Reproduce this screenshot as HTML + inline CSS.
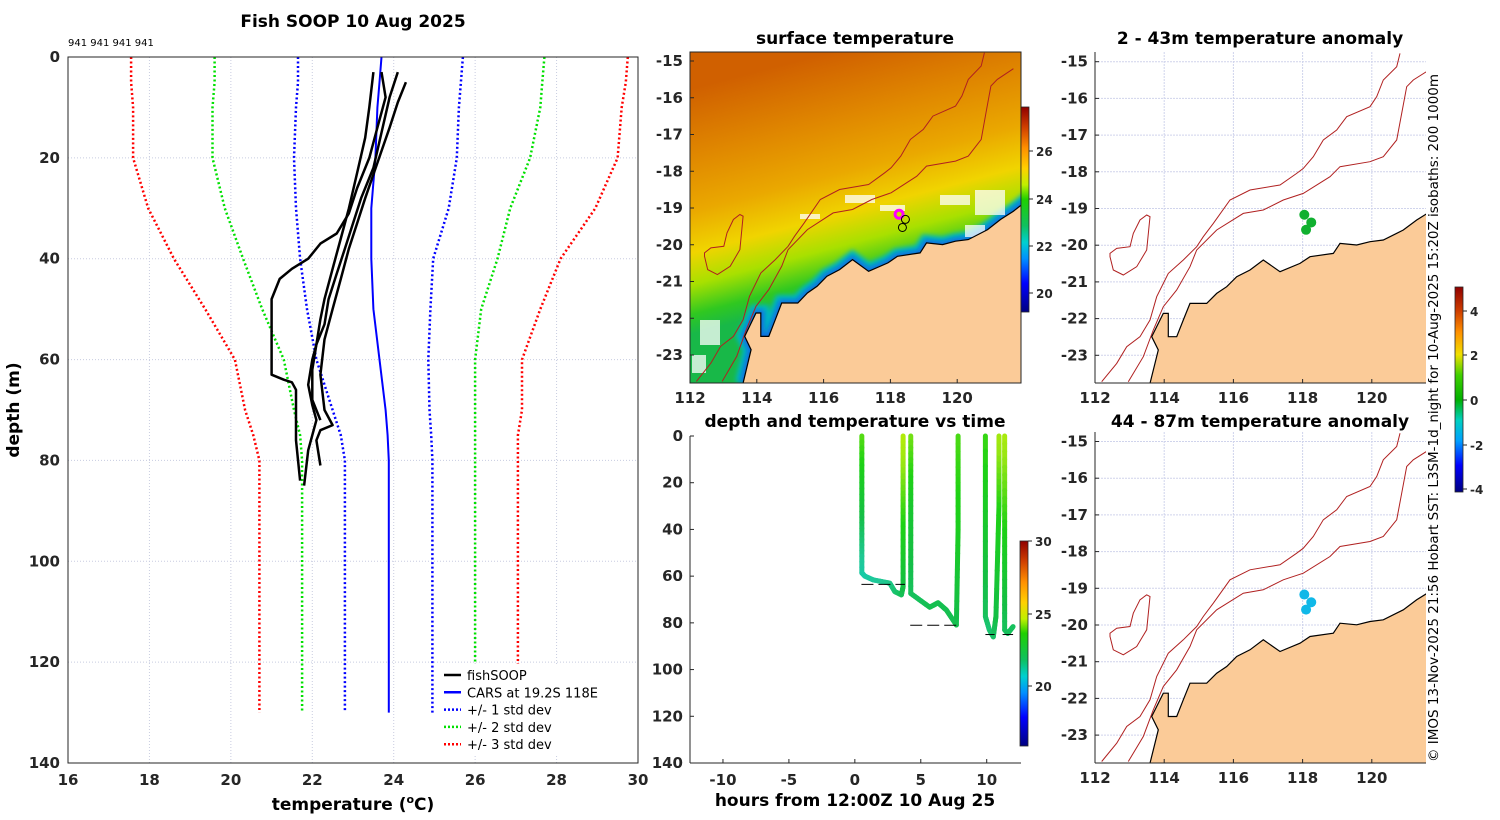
<!DOCTYPE html>
<html><head><meta charset="utf-8"><style>
html,body{margin:0;padding:0;background:#fff}
svg{display:block;font-family:"DejaVu Sans","Liberation Sans",sans-serif}
.tk{font-size:15px;font-weight:bold;fill:#262626}
.ttl{font-size:17px;font-weight:bold;fill:#000}
</style></head><body>
<svg id="fig" width="1500" height="820" viewBox="0 0 1500 820" xmlns="http://www.w3.org/2000/svg">
<defs>
<linearGradient id="sstGrad" gradientUnits="userSpaceOnUse" x1="880" y1="285" x2="820" y2="55">
<stop offset="0" stop-color="#18b848"/><stop offset="0.08" stop-color="#30c820"/><stop offset="0.2" stop-color="#a8e000"/><stop offset="0.33" stop-color="#f0d400"/><stop offset="0.5" stop-color="#eaa800"/><stop offset="0.72" stop-color="#e08800"/><stop offset="1" stop-color="#d06000"/>
</linearGradient>
<linearGradient id="cbT" x1="0" y1="0" x2="0" y2="1">
<stop offset="0" stop-color="#900000"/><stop offset="0.1" stop-color="#d04000"/><stop offset="0.2" stop-color="#ff9000"/><stop offset="0.3" stop-color="#ffd000"/><stop offset="0.38" stop-color="#c0f000"/><stop offset="0.45" stop-color="#20d000"/><stop offset="0.58" stop-color="#10c060"/><stop offset="0.66" stop-color="#00d0d0"/><stop offset="0.74" stop-color="#0090ff"/><stop offset="0.86" stop-color="#0000ff"/><stop offset="1" stop-color="#000080"/>
</linearGradient>
<linearGradient id="cbA" x1="0" y1="0" x2="0" y2="1">
<stop offset="0" stop-color="#900000"/><stop offset="0.12" stop-color="#d04000"/><stop offset="0.22" stop-color="#ff9000"/><stop offset="0.33" stop-color="#f0e000"/><stop offset="0.43" stop-color="#40d000"/><stop offset="0.55" stop-color="#00b000"/><stop offset="0.65" stop-color="#00d0c0"/><stop offset="0.75" stop-color="#00a0ff"/><stop offset="0.87" stop-color="#0000ff"/><stop offset="1" stop-color="#000080"/>
</linearGradient>
<clipPath id="c1"><rect x="690" y="52" width="331" height="331"/></clipPath>
<clipPath id="c2"><rect x="1095" y="52" width="331" height="331"/></clipPath>
<clipPath id="c3"><rect x="1095" y="432" width="331" height="331"/></clipPath>
<filter id="blur4" x="-10%" y="-10%" width="120%" height="120%"><feGaussianBlur stdDeviation="2.5"/></filter>
</defs>

<text class="ttl" x="353" y="27" text-anchor="middle">Fish SOOP 10 Aug 2025</text>
<text x="68" y="46" font-size="10">941 941 941 941</text>
<g id="left"></g>
<text class="ttl" x="353" y="810" text-anchor="middle">temperature (<tspan font-size="11" dy="-7">o</tspan><tspan dy="7">C)</tspan></text>
<text class="ttl" transform="translate(19,410) rotate(-90)" text-anchor="middle">depth (m)</text>

<text class="ttl" x="855" y="44" text-anchor="middle">surface temperature</text>
<g id="m1"></g>
<text class="ttl" x="855" y="427" text-anchor="middle">depth and temperature vs time</text>
<g id="tp"></g>
<text class="ttl" x="855" y="806" text-anchor="middle">hours from 12:00Z 10 Aug 25</text>

<text class="ttl" x="1260" y="44" text-anchor="middle">2 - 43m temperature anomaly</text>
<g id="m2"></g>
<text class="ttl" x="1260" y="427" text-anchor="middle">44 - 87m temperature anomaly</text>
<g id="m3"></g>
<g id="cbars"></g>
<text transform="translate(1438,762) rotate(-90)" font-size="13" textLength="688" lengthAdjust="spacingAndGlyphs">© IMOS 13-Nov-2025 21:56 Hobart SST: L3SM-1d_night for 10-Aug-2025 15:20Z isobaths: 200  1000m</text>
</svg>
<script>
// ---------- profile data ----------
const levels   = [0,5,10,20,30,40,50,60,70,75,80,130];
const carsMean = [23.7,23.65,23.6,23.55,23.45,23.45,23.5,23.65,23.8,23.85,23.88,23.88];
const std1Lo = [21.65,21.65,21.6,21.55,21.6,21.7,21.87,22.1,22.5,22.7,22.8,22.8];
const std1Hi = [25.7,25.65,25.6,25.55,25.35,24.97,24.9,24.85,24.88,24.92,24.95,24.95];
const std2Lo = [19.6,19.6,19.55,19.55,19.85,20.3,20.77,21.3,21.55,21.7,21.75,21.75];
const std2Hi = [27.7,27.65,27.6,27.35,26.86,26.55,26.15,26.0,26.0,26.0,26.0,26.0];
const std3Lo = [17.55,17.55,17.6,17.6,17.97,18.6,19.37,20.1,20.35,20.55,20.7,20.7];
const std3Hi = [29.75,29.7,29.6,29.5,28.95,28.1,27.6,27.15,27.15,27.05,27.05,27.05];
const prof1T = [23.7,23.8,23.6,23.4,23.1,22.9,22.6,22.2,21.9,21.5,21.2,21.0,21.0,21.0,21.3,21.5,21.6,21.6,21.7];
const prof1D = [3,8,14,20,26,31,35,37,40,42,44,48,55,63,64,64.5,66,76,84];
const prof2T = [24.1,23.9,23.7,23.5,23.2,23.0,22.8,22.6,22.4,22.3,22.1,22.0,21.9,22.0,22.1,21.9,21.8];
const prof2D = [3,8,15,22,28,33,38,43,48,53,57,60,65,69,72,78,85];
const prof3T = [24.3,24.1,23.9,23.6,23.3,23.1,22.9,22.7,22.5,22.3,22.2,22.3,22.5,22.2,22.1,22.2];
const prof3D = [5,9,14,21,28,33,38,44,50,56,63,70,73,74,76,81];
const prof4T = [23.5,23.4,23.3,23.1,22.9,22.7,22.5,22.3,22.2,22.1,22.0,22.0,22.2];
const prof4D = [3,10,16,23,30,36,42,48,52,57,62,68,72];
const xTicks = [16,18,20,22,24,26,28,30];
const yTicks = [0,20,40,60,80,100,120,140];

// ---------- depth-time data ----------
const tTimes  = [0.53,0.53,0.53,0.76,1.39,2.65,3.03,3.53,3.66,3.66,3.66, 4.24,4.24,4.24,4.92,5.68,6.31,6.94,7.7,7.83,7.83, 9.9,9.9,10.2,10.5,10.7,10.93,10.93, 11.36,11.36,11.36,11.6,12.0];
const tDepths = [0,30,58.6,60,61.6,63,66.6,68,64.5,30,0, 0,30,67.4,70.2,73.3,71.4,74.5,80.9,40,0, 0,77.3,83,86,77.3,30,0, 0,40,83,84.5,81.6];
const tTemps  = [24.4,23.4,22.3,22.2,22.4,22.6,22.8,23.0,23.2,24.2,25.2, 24.6,23.6,23.0,23.0,23.1,23.1,23.1,23.1,23.8,24.3, 24.2,23.0,22.8,22.9,23.2,24.0,25.0, 25.1,24.0,23.0,23.0,23.0];
const segStarts = [0,11,21,28];
const dashT0 = [0.5,4.2,9.9,11.2];
const dashT1 = [3.8,7.8,10.6,12.0];
const dashD  = [63.5,81,85,85];
const tXTicks = [-10,-5,0,5,10];
const tYTicks = [0,20,40,60,80,100,120,140];

// ---------- map geometry (digitised in reference zoom coords) ----------
const coastZX = [300,325,305,340,355,355,380,400,420,470,500,530,560,600,640,690,750,780,850,870,920,960,1000,1060,1100,1140,1200,1200];
const coastZY = [1060,960,920,850,850,920,920,870,820,820,790,770,740,720,690,725,700,680,670,640,645,635,630,600,570,545,500,1060];
const iso1000ZX = [155,200,230,270,300,320,355,400,440,460,490,540,600,690,740,760,790,820,860,890,960,980,1000,1040,1050];
const iso1000ZY = [1055,1000,950,920,870,800,730,690,650,620,580,510,480,465,430,415,380,330,300,260,230,200,150,110,70];
const iso200ZX = [235,280,310,340,380,420,440,500,580,640,700,760,840,870,960,1000,1040,1055,1070,1090,1140];
const iso200ZY = [1055,980,900,830,780,710,660,600,550,540,510,490,440,410,395,380,330,250,170,150,118];
const islandZX = [180,190,220,260,290,300,290,270,250,240,200,180];
const islandZY = [680,720,735,710,660,560,555,570,610,650,655,670];
const obsLon = [118.05,118.25,118.1];
const obsLat = [-19.17,-19.38,-19.58];
const sstTicksLat = [-15,-16,-17,-18,-19,-20,-21,-22,-23];
const sstTicksLon = [112,114,116,118,120];

const NS='http://www.w3.org/2000/svg';
function mk(parent,tag,attrs){const e=document.createElementNS(NS,tag);for(const k in attrs)e.setAttribute(k,attrs[k]);parent.appendChild(e);return e;}
function zLon(zx){return 112+(zx-135)/103.8;}
function zLat(zy){return -15-(zy-95)/110.1;}

// ---------- left profile plot ----------
const L={x0:68,x1:638,y0:57,y1:763};
const px=t=>L.x0+(t-16)/(30-16)*(L.x1-L.x0);
const py=d=>L.y0+d/140*(L.y1-L.y0);
const left=document.getElementById('left');
xTicks.forEach(t=>{
  const g=mk(left,'line',{x1:px(t),x2:px(t),y1:L.y0,y2:L.y1,stroke:'#c8cce0','stroke-width':1,'stroke-dasharray':'1,2'});
  
  
  const tl=mk(left,'text',{x:px(t),y:785,'text-anchor':'middle',class:'tk'});tl.textContent=t;
  
  
});
yTicks.forEach(d=>{
  const g=mk(left,'line',{x1:L.x0,x2:L.x1,y1:py(d),y2:py(d),stroke:'#c8cce0','stroke-width':1,'stroke-dasharray':'1,2'});
  
  
  const tl=mk(left,'text',{x:60,y:py(d)+5,'text-anchor':'end',class:'tk'});tl.textContent=d;
  
  
});
function line(parent,T,D,attrs,name){
  const pts=T.map((t,i)=>px(t).toFixed(1)+','+py(D[i]).toFixed(1)).join(' ');
  const e=mk(parent,'polyline',Object.assign({points:pts,fill:'none'},attrs));
  
  
}
const dot={'stroke-width':2.5,'stroke-dasharray':'2,2.5'};
line(left,std3Lo,levels,Object.assign({stroke:'#ff0000'},dot),'std3-lower');
line(left,std3Hi,levels,Object.assign({stroke:'#ff0000'},dot),'std3-upper');
line(left,std2Lo,levels,Object.assign({stroke:'#00e000'},dot),'std2-lower');
line(left,std2Hi,levels,Object.assign({stroke:'#00e000'},dot),'std2-upper');
line(left,std1Lo,levels,Object.assign({stroke:'#0000ff'},dot),'std1-lower');
line(left,std1Hi,levels,Object.assign({stroke:'#0000ff'},dot),'std1-upper');
line(left,carsMean,levels,{stroke:'#0000ff','stroke-width':2},'cars-mean');
[[prof1T,prof1D],[prof2T,prof2D],[prof3T,prof3D],[prof4T,prof4D]].forEach(p=>line(left,p[0],p[1],{stroke:'#000','stroke-width':2.5,'stroke-linejoin':'round'},'fishsoop-profile'));
mk(left,'rect',{x:L.x0,y:L.y0,width:L.x1-L.x0,height:L.y1-L.y0,fill:'none',stroke:'#262626','stroke-width':1});
// legend
const lg=mk(left,'g',{});


mk(lg,'rect',{x:440,y:664,width:197,height:90,fill:'#fff'});
const legItems=[['fishSOOP','#000',null],['CARS at 19.2S 118E','#0000ff',null],['+/- 1 std dev','#0000ff','2,2'],['+/- 2 std dev','#00e000','2,2'],['+/- 3 std dev','#ff0000','2,2']];
legItems.forEach((it,i)=>{
  const y=675+i*17.3;
  const a={x1:444,x2:461,y1:y,y2:y,stroke:it[1],'stroke-width':2.5};
  if(it[2])a['stroke-dasharray']=it[2];
  const l=mk(lg,'line',a);
  
  
  const t=mk(lg,'text',{x:467,y:y+5,'font-size':'13',fill:'#000'});t.textContent=it[0];
  
  
});

// ---------- colour scale ----------
const cStops=[[16,[0,0,128]],[18,[0,0,255]],[20,[0,144,255]],[21.5,[0,208,208]],[22.5,[32,200,150]],[23.2,[20,190,70]],[24,[30,210,20]],[24.8,[150,230,20]],[25.5,[200,240,0]],[26.5,[255,208,0]],[27.5,[255,144,0]],[29,[208,64,0]],[30,[144,0,0]]];
function tcol(v){
  for(let i=1;i<cStops.length;i++){if(v<=cStops[i][0]){const a=cStops[i-1],b=cStops[i],f=(v-a[0])/(b[0]-a[0]);return 'rgb('+a[1].map((c,k)=>Math.round(c+(b[1][k]-c)*Math.max(0,f))).join(',')+')';}}
  return 'rgb(144,0,0)';
}

// ---------- depth-time plot ----------
const P={x0:690,x1:1021,y0:436,y1:763,t0:-12.5,t1:12.6};
const tx=t=>P.x0+(t-P.t0)/(P.t1-P.t0)*(P.x1-P.x0);
const ty=d=>P.y0+d/140*(P.y1-P.y0);
const tp=document.getElementById('tp');
mk(tp,'line',{x1:P.x0,x2:P.x0,y1:P.y0,y2:P.y1,stroke:'#262626'});
mk(tp,'line',{x1:P.x0,x2:P.x1,y1:P.y1,y2:P.y1,stroke:'#262626'});
tXTicks.forEach(t=>{
  mk(tp,'line',{x1:tx(t),x2:tx(t),y1:P.y1,y2:P.y1-4,stroke:'#262626'});
  const tl=mk(tp,'text',{x:tx(t),y:785,'text-anchor':'middle',class:'tk'});tl.textContent=t;
  
  
});
tYTicks.forEach(d=>{
  mk(tp,'line',{x1:P.x0,x2:P.x0+4,y1:ty(d),y2:ty(d),stroke:'#262626'});
  const tl=mk(tp,'text',{x:683,y:ty(d)+5,'text-anchor':'end',class:'tk'});tl.textContent=d;
  
  
});
for(let i=0;i<tTimes.length-1;i++){
  if(segStarts.includes(i+1))continue;
  const n=12;
  for(let k=0;k<n;k++){
    const f0=k/n,f1=(k+1)/n;
    const ta=tTimes[i]+(tTimes[i+1]-tTimes[i])*f0, tb=tTimes[i]+(tTimes[i+1]-tTimes[i])*f1;
    const da=tDepths[i]+(tDepths[i+1]-tDepths[i])*f0, db=tDepths[i]+(tDepths[i+1]-tDepths[i])*f1;
    const v=tTemps[i]+(tTemps[i+1]-tTemps[i])*(f0+f1)/2;
    const s=mk(tp,'line',{x1:tx(ta),y1:ty(da),x2:tx(tb),y2:ty(db),stroke:tcol(v),'stroke-width':5,'stroke-linecap':'round'});
    
    
  }
}
dashD.forEach((d,i)=>{
  const s=mk(tp,'line',{x1:tx(dashT0[i]),x2:tx(dashT1[i]),y1:ty(d),y2:ty(d),stroke:'#000','stroke-width':1,'stroke-dasharray':'12,5'});
  
  
});

// ---------- maps ----------
function drawMap(gid,M,clip,opts){
  const g=document.getElementById(gid);
  const X=lon=>M.x0+(lon-112)*M.kx, Y=lat=>M.y0+(-15-lat)*M.ky;
  const cg=mk(g,'g',{'clip-path':'url(#'+clip+')'});
  const r=M.rect;
  const pts=(ZX,ZY)=>ZX.map((z,i)=>X(zLon(z)).toFixed(1)+','+Y(zLat(ZY[i])).toFixed(1)).join(' ');
  if(opts.sst){
    mk(cg,'rect',{x:r[0],y:r[1],width:r[2],height:r[3],fill:'url(#sstGrad)'});
    const cz=coastZX.slice(0,-1), cyz=coastZY.slice(0,-1);
    const band=mk(cg,'polyline',{points:pts(cz,cyz),fill:'none',stroke:'#00b8c0','stroke-width':16,filter:'url(#blur4)'});
    
    
    mk(cg,'polyline',{points:pts(cz,cyz),fill:'none',stroke:'#1070e0','stroke-width':7,filter:'url(#blur4)'});
    [[845,195,30,8],[880,205,25,6],[700,320,20,25],[692,355,14,18],[940,195,30,10],[975,190,30,25],[965,225,20,12],[800,214,20,5]].forEach(w=>{
      const e=mk(cg,'rect',{x:w[0],y:w[1],width:w[2],height:w[3],fill:'#fff',opacity:0.75});
      
      
    });
  } else {
    mk(cg,'rect',{x:r[0],y:r[1],width:r[2],height:r[3],fill:'#fff'});
    sstTicksLon.forEach(l=>mk(cg,'line',{x1:X(l),x2:X(l),y1:r[1],y2:r[1]+r[3],stroke:'#d0d4ec','stroke-dasharray':'2,1'}));
    sstTicksLat.forEach(l=>mk(cg,'line',{x1:r[0],x2:r[0]+r[2],y1:Y(l),y2:Y(l),stroke:'#d0d4ec','stroke-dasharray':'2,1'}));
  }
  const iso1=mk(cg,'polyline',{points:pts(iso1000ZX,iso1000ZY),fill:'none',stroke:'#b02020','stroke-width':1});
  
  
  const iso2=mk(cg,'polyline',{points:pts(iso200ZX,iso200ZY),fill:'none',stroke:'#b02020','stroke-width':1});
  
  
  const isl=mk(cg,'polygon',{points:pts(islandZX,islandZY),fill:'none',stroke:'#b02020','stroke-width':1});
  
  
  const coast=mk(cg,'polygon',{points:pts(coastZX,coastZY),fill:'#fbcb98',stroke:'#000','stroke-width':1.2});
  
  
  if(opts.sst){
    const m=mk(cg,'circle',{cx:X(118.26),cy:Y(-19.17),r:4,fill:'none',stroke:'#ff00ff','stroke-width':3});
    
    
    mk(cg,'circle',{cx:X(118.45),cy:Y(-19.31),r:4,fill:'none',stroke:'#000'});
    mk(cg,'circle',{cx:X(118.36),cy:Y(-19.53),r:4,fill:'none',stroke:'#000'});
  } else {
    obsLon.forEach((lo,i)=>{
      const c=mk(cg,'circle',{cx:X(lo),cy:Y(obsLat[i]),r:5,fill:opts.dot});
      
      
    });
  }
  if(opts.sst) mk(g,'rect',{x:r[0],y:r[1],width:r[2],height:r[3],fill:'none',stroke:'#262626'});
  else { mk(g,'line',{x1:r[0],x2:r[0],y1:r[1],y2:r[1]+r[3],stroke:'#262626'}); mk(g,'line',{x1:r[0],x2:r[0]+r[2],y1:r[1]+r[3],y2:r[1]+r[3],stroke:'#262626'}); }
  sstTicksLat.forEach(l=>{
    mk(g,'line',{x1:r[0],x2:r[0]+4,y1:Y(l),y2:Y(l),stroke:'#262626'});
    const t=mk(g,'text',{x:r[0]-7,y:Y(l)+5,'text-anchor':'end',class:'tk'});t.textContent=l;
    
    
  });
  sstTicksLon.forEach(l=>{
    mk(g,'line',{x1:X(l),x2:X(l),y1:r[1]+r[3],y2:r[1]+r[3]-4,stroke:'#262626'});
    const t=mk(g,'text',{x:X(l),y:r[1]+r[3]+20,'text-anchor':'middle',class:'tk'});t.textContent=l;
    
    
  });
}
drawMap('m1',{x0:690,kx:33.4,y0:61,ky:36.75,rect:[690,52,331,331]},'c1',{sst:true});
drawMap('m2',{x0:1095,kx:34.6,y0:61.7,ky:36.7,rect:[1095,52,331,331]},'c2',{dot:'#10b030'});
drawMap('m3',{x0:1095,kx:34.6,y0:441.5,ky:36.7,rect:[1095,432,331,331]},'c3',{dot:'#10b8e8'});

// ---------- colorbars ----------
const cb=document.getElementById('cbars');
function colorbar(x,y,w,h,grad,ticks,pos){
  const r=mk(cb,'rect',{x:x,y:y,width:w,height:h,fill:'url(#'+grad+')',stroke:'#262626','stroke-width':0.8});
  
  
  ticks.forEach((t,i)=>{
    mk(cb,'line',{x1:x+w,x2:x+w+4,y1:pos[i],y2:pos[i],stroke:'#262626'});
    const tl=mk(cb,'text',{x:x+w+7,y:pos[i]+5,'font-size':'12','font-weight':'bold',fill:'#262626'});tl.textContent=t;
    
    
  });
}
colorbar(1021,107,8,205,'cbT',[26,24,22,20],[151,199,246,293]);
colorbar(1020,541,8,205,'cbT',[30,25,20],[541,614,686]);
colorbar(1455,287,8,205,'cbA',[4,2,0,-2,-4],[311,355,400,445,489]);
</script>
</body></html>
